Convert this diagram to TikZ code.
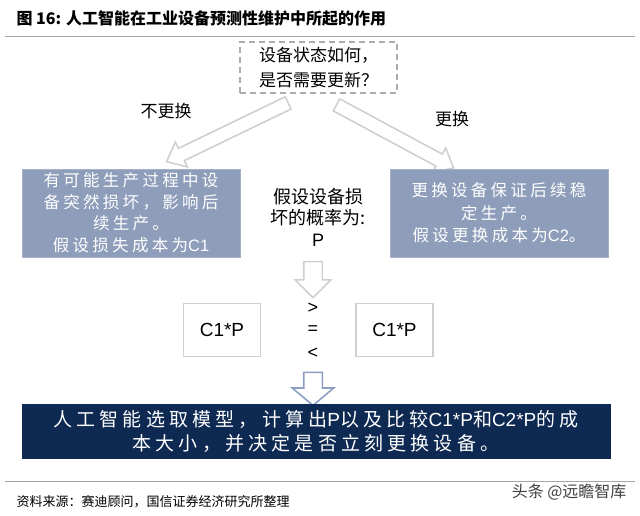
\documentclass[tikz,border=0pt]{standalone}
\usepackage{fontspec}
\setmainfont{Liberation Sans}
\newfontfamily\cjk{Noto Sans CJK SC}
\newfontfamily\cjkwide[LetterSpace=20]{Noto Sans CJK SC}
\newfontfamily\cjkwider[LetterSpace=22]{Noto Sans CJK SC}
\newcommand\lat[1]{{\rmfamily #1}}
\usetikzlibrary{shapes.arrows}
\definecolor{boxblue}{HTML}{8E9DBA}
\definecolor{navy}{HTML}{0E2A52}
\definecolor{arrowgray}{HTML}{D0D0D0}
\definecolor{arrowblue}{HTML}{8C9EC2}
\begin{document}
\begin{tikzpicture}[x=1pt,y=-1pt,
    fat/.style={single arrow,draw=arrowgray,line width=1.6pt,inner xsep=0pt,inner ysep=6pt,
        single arrow head extend=7pt,single arrow tip angle=80},
    infobox/.style={fill=boxblue,draw=boxblue!80,text=white,align=center,
        minimum width=218pt,minimum height=88pt,inner sep=0pt,
        font=\cjkwide\fontsize{16.5}{21.5}\selectfont},
    prodbox/.style={draw=arrowgray,line width=1.8pt,minimum width=77pt,minimum height=53pt,
        font=\fontsize{19}{22}\selectfont},
    rel/.style={font=\fontsize{18}{20}\selectfont}]
\useasboundingbox (0,0) rectangle (640,515);
% title and rules
\node[anchor=west,font=\cjk\bfseries\fontsize{16}{18}\selectfont] (title) at (13,18) {图 16: 人工智能在工业设备预测性维护中所起的作用};
\draw[gray!70,line width=1pt] (5,36) -- (635,36);
\draw[gray!70,line width=1pt] (5,481) -- (635,481);
% question
\node[draw=gray!65,dashed,dash pattern=on 6pt off 4pt,line width=1.2pt,minimum width=157pt,minimum height=51pt,
    align=center,font=\cjk\fontsize{17}{25}\selectfont] (q) at (318.5,67.5) {设备状态如何，\\是否需要更新？};
\node[font=\cjk\fontsize{17}{20}\selectfont] (nkeep) at (166,111) {不更换};
\node[font=\cjk\fontsize{17}{20}\selectfont] (nswap) at (452,119) {更换};
% branches
\node[fat,minimum height=135pt,rotate=205.8] (arL) at (231,130.5) {};
\node[fat,minimum height=133pt,rotate=-28.3] (arR) at (391.5,134.5) {};
\node[infobox] (lbox) at (131,213) {有可能生产过程中设\\备突然损坏，影响后\\续生产。\\假设损失成本为\lat{C1}};
\node[infobox,font=\cjkwide\fontsize{16.5}{22.5}\selectfont] (rbox) at (499,213) {更换设备保证后续稳\\定生产。\\假设更换成本为\lat{C2}。};
\node[align=center,font=\cjk\fontsize{18}{21.5}\selectfont] (prob) at (318,217) {假设设备损\\坏的概率为:\\\lat{P}};
% comparison
\node[fat,inner ysep=8.5pt,single arrow head extend=8.5pt,single arrow tip angle=90,minimum height=36pt,rotate=-90] (arD) at (313,275) {};
\node[prodbox] (lprod) at (222,330) {C1*P};
\node[prodbox] (rprod) at (394.5,330) {C1*P};
\node[rel] (gt) at (313,308) {>};
\node[rel] (eq) at (313,330) {=};
\node[rel] (lt) at (313,353) {<};
% result
\node[fat,draw=arrowblue,inner ysep=8.5pt,single arrow head extend=11.5pt,single arrow tip angle=100,minimum height=33pt,rotate=-90] (arB) at (313,385) {};
\node[fill=navy,draw=navy,text=white,minimum width=588pt,minimum height=54pt,align=center,
    font=\cjkwider\fontsize{19}{24}\selectfont] (res) at (316,431) {人工智能选取模型，计算出\lat{P}以及比较\lat{C1*P}和\lat{C2*P}的成\\本大小，并决定是否立刻更换设备。};
% source
\node[anchor=west,font=\cjk\fontsize{13}{15}\selectfont] (src) at (13,502) {资料来源：赛迪顾问，国信证券经济研究所整理};
\node[anchor=east,text=black!75,font=\cjk\fontsize{16}{18}\selectfont] (mark) at (630,492) {头条 @远瞻智库};
\end{tikzpicture}
\end{document}
